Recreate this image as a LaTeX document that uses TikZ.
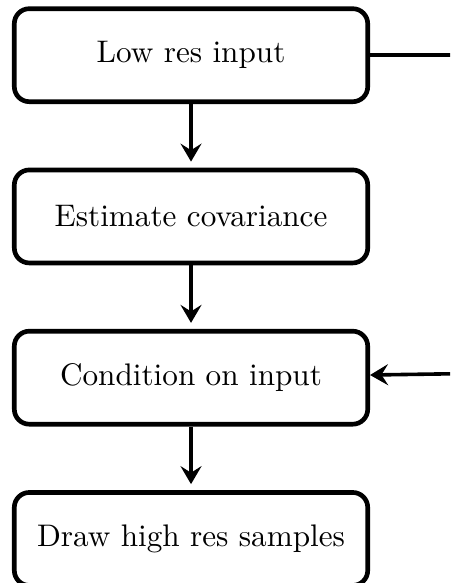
\documentclass[tikz,border=0pt]{standalone}
\usetikzlibrary{positioning}
\usetikzlibrary{arrows.meta}

\begin{document}
\begin{tikzpicture}[
        stepbox/.style={draw, rounded corners=5pt, line width=1.55pt,
            minimum width=117.8pt, minimum height=31pt,
            font=\fontsize{10.4}{12.5}\selectfont},
        link/.style={line width=1.2pt},
        linkarrow/.style={link, -{Stealth[length=6pt, width=7pt, inset=2.2pt]}},
        node distance=21.2pt]
    \path[use as bounding box, clip] (0pt, 0pt) rectangle (150pt, -194.33pt);
    \node[stepbox] (lowres) at (63.67pt, -18.4pt) {Low res input};
    \node[stepbox, below=of lowres] (covar) {Estimate covariance};
    \node[stepbox, below=of covar] (cond) {Condition on input};
    \node[stepbox, below=of cond] (samples) {Draw high res samples};
    % connectors leaving the picture on the right
    \coordinate (outtop) at (170pt, -18.4pt);
    \coordinate (outbot) at (170pt, -124.3pt);
    \draw[link] (lowres) -- (outtop);
    \draw[linkarrow] (outbot) -- (cond);
    \draw[linkarrow, shorten >=2pt] (lowres) -- (covar);
    \draw[linkarrow, shorten >=2pt] (covar) -- (cond);
    \draw[linkarrow, shorten >=2pt] (cond) -- (samples);
\end{tikzpicture}
\end{document}
